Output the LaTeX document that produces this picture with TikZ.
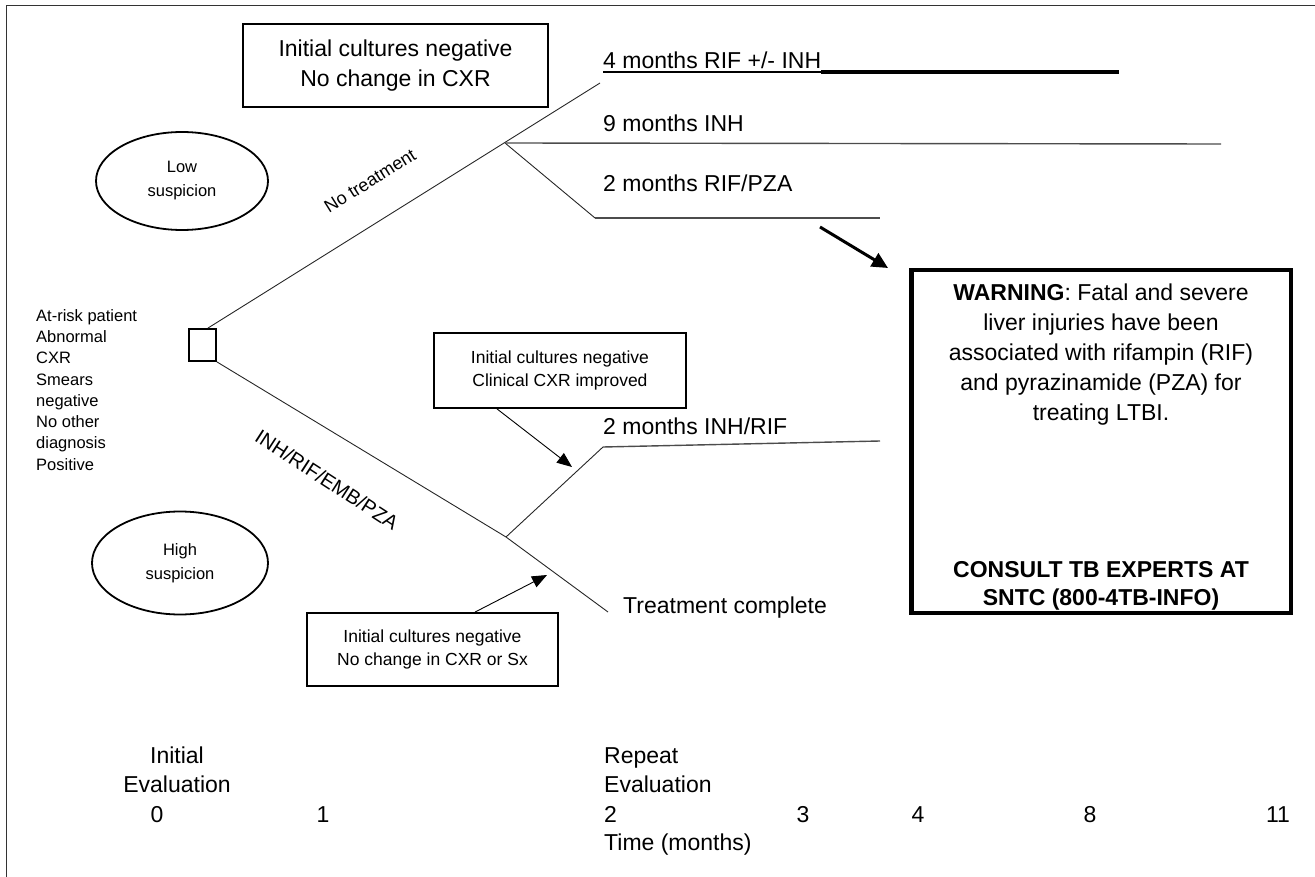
\documentclass[tikz,border=0pt]{standalone}
\usepackage{fontspec}
\setmainfont{Liberation Sans}
\usetikzlibrary{arrows.meta,positioning,shapes.geometric}

\begin{document}
\begin{tikzpicture}[
  x=1pt,y=-1pt,
  box/.style={rectangle,draw,line width=1.8pt,align=center,inner sep=0pt,font=\fontsize{17.5}{23}\selectfont},
  susp/.style={ellipse,draw,line width=1.8pt,align=center,inner sep=0pt,font=\fontsize{16.5}{24}\selectfont},
  txt/.style={inner sep=0pt,font=\fontsize{23}{30}\selectfont},
  branch/.style={draw,line width=0.9pt,black!85},
  rx/.style={draw,line width=1.4pt,black!70},
  pointer/.style={draw,line width=0.9pt,-{Triangle[length=15pt,width=12pt]}},
  lbl/.style={inner sep=0pt,font=\fontsize{18}{21}\selectfont}
]
\useasboundingbox (0,0) rectangle (1315,877);
% frame
\draw[line width=1.5pt,black!80] (6.5,877) -- (6.5,5.5) -- (1315,5.5);

% boxes, ellipses, start square
\node[box,line width=1.5pt,minimum width=305,minimum height=83,font=\fontsize{23}{30}\selectfont] (nochg) at (395.5,65.5) {Initial cultures negative\\No change in CXR};
\node[susp,minimum width=172,minimum height=98] (low) at (182,181) {Low\\suspicion};
\node[susp,minimum width=176,minimum height=103] (high) at (180,563) {High\\suspicion};
\node[draw,line width=1.8pt,minimum width=27,minimum height=32,inner sep=0pt] (sq) at (202.5,345) {};
\node[anchor=north west,align=left,inner sep=0pt,font=\fontsize{16.5}{21.3}\selectfont] (pt) at (36,309) {At-risk patient\\Abnormal\\CXR\\Smears\\negative\\No other\\diagnosis\\Positive};
\node[box,minimum width=252,minimum height=75] (imp) at (560,370.5) {Initial cultures negative\\Clinical CXR improved};
\node[box,minimum width=251,minimum height=73] (sx) at (432.5,649.5) {Initial cultures negative\\No change in CXR or Sx};

% warning box
\node[draw,line width=4.5pt,minimum width=379.5,minimum height=342.5,inner sep=0pt] (warn) at (1101,441.5) {};
\node[txt,align=center,below=15.5pt of warn.north] (warntxt) {\textbf{WARNING}: Fatal and severe\\liver injuries have been\\associated with rifampin (RIF)\\and pyrazinamide (PZA) for\\treating LTBI.};
\node[txt,align=center,font=\fontsize{23}{28}\selectfont\bfseries,above=4.5pt of warn.south] (consult) {CONSULT TB EXPERTS AT\\SNTC (800-4TB-INFO)};

% regimens
\node[txt,anchor=base west] (r4) at (603,69) {4 months RIF +/- INH};
\node[txt,anchor=base west] (r9) at (603,132) {9 months INH};
\node[txt,anchor=base west] (r2a) at (603,192) {2 months RIF/PZA};
\node[txt,anchor=base west] (r2b) at (603,434) {2 months INH/RIF};
\node[txt,anchor=base west] (done) at (623,613) {Treatment complete};

% branch points and line ends
\coordinate (up) at (600,83);
\coordinate (b1) at (505,143);
\coordinate (e9) at (1221,144);
\coordinate (k2) at (595,218);
\coordinate (e2a) at (880,218);
\coordinate (b2) at (506,537);
\coordinate (u2) at (603,447);
\coordinate (e2b) at (880,441);
\coordinate (tc) at (608,612);
\coordinate (e4) at (1119,72);

% tree
\draw[branch] ([xshift=-9pt]sq.north east) -- (up);
\draw[branch] (sq.south east) -- (b2) -- (tc);
\draw[branch] (b2) -- (u2);
\draw[branch] (b1) -- (k2);
\draw[rx] (b1) -- (e9);
\draw[rx] (k2) -- (e2a);
\draw[rx] (u2) -- (e2b);
\draw[line width=1.5pt] ([yshift=-3pt]r4.base west) -- ([yshift=-3pt]r4.base east);
\draw[line width=4pt] ([yshift=-3pt]r4.base east) -- (e4);

% slanted labels
\node[lbl,rotate=32] (notx) at (370,181) {No treatment};
\node[lbl,rotate=-33,font=\fontsize{20}{24}\selectfont] (quad) at (327,480) {INH/RIF/EMB/PZA};

% pointers
\coordinate (tipa) at (572,467);
\coordinate (tipb) at (547,575);
\coordinate (tailw) at (820,227);
\coordinate (tipw) at (888,268);
\draw[pointer] ([xshift=-63pt]imp.south) -- (tipa);
\draw[pointer] ([xshift=42.5pt]sx.north) -- (tipb);
\draw[pointer,line width=3pt,-{Triangle[length=16pt,width=15pt]}] (tailw) -- (tipw);

% time axis
\node[txt,anchor=base] (ini) at (177,763) {Initial};
\node[txt,anchor=base] (inieval) at (177,792) {Evaluation};
\node[txt,anchor=base west] (rep) at (604,763) {Repeat};
\node[txt,anchor=base west] (repeval) at (604,792) {Evaluation};
\node[txt,anchor=base west] (time) at (604,850) {Time (months)};
\foreach \m/\xx in {0/157,1/323,2/610.5,3/803,4/918,8/1090,11/1278}
  \node[txt,anchor=base] (m\m) at (\xx,822) {\m};
\end{tikzpicture}
\end{document}
